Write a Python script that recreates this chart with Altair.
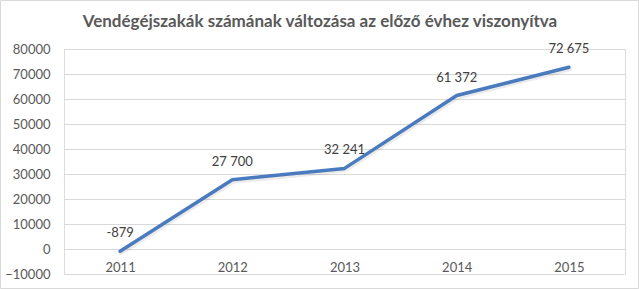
import altair as alt
import pandas as pd

years = ["2011", "2012", "2013", "2014", "2015"]
values = [-879, 27700, 32241, 61372, 72675]
labels = [f"{v:,}".replace(",", " ") for v in values]
y_ticks = list(range(-10000, 80001, 10000))
title_text = "Vendégéjszakák számának változása az előző évhez viszonyítva"

df = pd.DataFrame({"year": years, "value": values, "label": labels})

FONT = "Lato"
GREY = "#595959"

x = alt.X("year:N", sort=years, title=None,
          scale=alt.Scale(type="point", padding=0.5),
          axis=alt.Axis(labelAngle=0, ticks=False, domain=False, grid=False,
                        labelPadding=-13, labelBaseline="top",
                        labelFont=FONT, labelFontSize=13, labelColor=GREY))
y = alt.Y("value:Q", title=None,
          scale=alt.Scale(domain=[-10000, 80000], nice=False, zero=False),
          axis=alt.Axis(values=y_ticks, format="d", ticks=False, domain=False,
                        gridColor="#d9d9d9", gridWidth=1, labelPadding=14,
                        labelFont=FONT, labelFontSize=13, labelColor=GREY))

base = alt.Chart(df)

shadow = base.mark_line(color="#000000", opacity=0.08, strokeWidth=4,
                        yOffset=2, xOffset=1, strokeCap="round").encode(x=x, y=y)
line = base.mark_line(color="#4a7bbf", strokeWidth=3.5, strokeCap="round",
                      strokeJoin="round").encode(x=x, y=y)
text = base.mark_text(dy=-18, font=FONT, fontSize=13, color="#404040").encode(
    x=x, y=y, text="label:N")

one = pd.DataFrame({"t": [title_text]})
border = alt.Chart(one).mark_rect(
    fill=None, stroke="#d9d9d9", strokeWidth=1).encode(
    x=alt.value(-63.5), x2=alt.value(574.5), y=alt.value(-48.5), y2=alt.value(239.5))
title = alt.Chart(one).mark_text(
    font=FONT, fontSize=17, fontWeight="bold", color=GREY, baseline="middle").encode(
    x=alt.value(256), y=alt.value(-27), text="t:N")

chart = alt.layer(border, shadow, line, text, title).properties(
    width=561, height=225,
    padding={"left": 64, "top": 49, "right": 14, "bottom": 15},
    autosize=alt.AutoSizeParams(type="none"),
).configure_view(stroke=None).configure(background="white")

chart.save("out.html", embed_options={"renderer": "svg", "actions": False})
